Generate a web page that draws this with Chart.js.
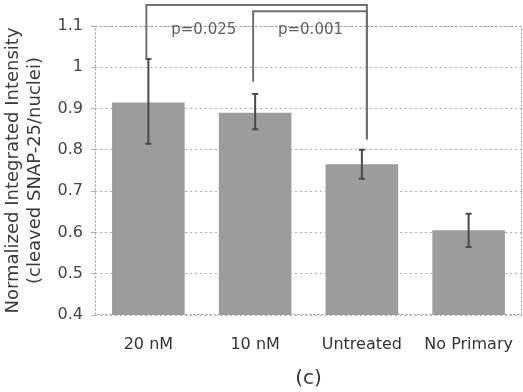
<!DOCTYPE html>
<html>
<head>
<meta charset="utf-8">
<script src="https://cdn.jsdelivr.net/npm/chart.js@4.4.0/dist/chart.umd.min.js"></script>
<style>
  html, body { margin: 0; padding: 0; background: #fff; }
  #wrap { width: 523px; height: 392px; position: relative; }
</style>
</head>
<body>
<div id="wrap"><canvas id="chart"></canvas></div>
<script>
  // Données
  const categories = ["20 nM", "10 nM", "Untreated", "No Primary"];
  const means = [0.915, 0.89, 0.765, 0.605];
  const errLow = [0.815, 0.85, 0.73, 0.565];
  const errHigh = [1.02, 0.935, 0.8, 0.645];
  const yTicks = [0.4, 0.5, 0.6, 0.7, 0.8, 0.9, 1, 1.1];

  // Crochets de significativité : de / vers, hauteur du haut, bas gauche, bas droite
  const bracketFrom = [0, 1];
  const bracketTo = [2, 2];
  const bracketTop = [1.151, 1.136];
  const bracketLeftEnd = [1.02, 0.965];
  const bracketRightEnd = [0.825, 0.825];
  const pLabels = ["p=0.025", "p=0.001"];

  const FONT = "'DejaVu Sans', Verdana, sans-serif";

  const overlayPlugin = {
    id: "overlay",
    afterDatasetsDraw(chart) {
      const { ctx, chartArea, scales } = chart;
      const x = scales.x, y = scales.y;
      ctx.save();

      // cadre pointillé
      ctx.strokeStyle = "#9a9a9a";
      ctx.lineWidth = 1;
      ctx.setLineDash([2, 2]);
      ctx.strokeRect(chartArea.left + 0.5, chartArea.top + 0.5,
        chartArea.right - chartArea.left - 1, chartArea.bottom - chartArea.top - 1);
      ctx.setLineDash([]);

      // barres d'erreur
      ctx.strokeStyle = "#4a4a4a";
      ctx.lineWidth = 2;
      means.forEach((m, i) => {
        const cx = x.getPixelForValue(i);
        const yl = y.getPixelForValue(errLow[i]);
        const yh = y.getPixelForValue(errHigh[i]);
        ctx.beginPath();
        ctx.moveTo(cx, yl); ctx.lineTo(cx, yh);
        ctx.moveTo(cx - 3, yl); ctx.lineTo(cx + 3, yl);
        ctx.moveTo(cx - 3, yh); ctx.lineTo(cx + 3, yh);
        ctx.stroke();
      });

      // crochets
      ctx.strokeStyle = "#707070";
      ctx.lineWidth = 2;
      bracketFrom.forEach((f, k) => {
        const x1 = x.getPixelForValue(f) - 2;
        const x2 = x.getPixelForValue(bracketTo[k]) + 5;
        const yt = y.getPixelForValue(bracketTop[k]);
        ctx.beginPath();
        ctx.moveTo(x1, y.getPixelForValue(bracketLeftEnd[k]));
        ctx.lineTo(x1, yt);
        ctx.lineTo(x2, yt);
        ctx.lineTo(x2, y.getPixelForValue(bracketRightEnd[k]));
        ctx.stroke();
      });

      // étiquettes p
      ctx.fillStyle = "#606060";
      ctx.font = "15px " + FONT;
      ctx.textAlign = "center";
      ctx.textBaseline = "middle";
      pLabels.forEach((t, k) => {
        const xa = x.getPixelForValue(bracketFrom[k] === 0 ? 0 : 1);
        const xb = x.getPixelForValue(bracketFrom[k] === 0 ? 1 : 2);
        ctx.fillText(t, (xa + xb) / 2 + 2, y.getPixelForValue(1.09));
      });
      ctx.restore();
    }
  };

  new Chart(document.getElementById("chart"), {
    type: "bar",
    data: {
      labels: categories,
      datasets: [{
        data: means,
        backgroundColor: "#9c9c9c",
        borderWidth: 0,
        categoryPercentage: 0.68,
        barPercentage: 1.0
      }]
    },
    options: {
      responsive: true,
      maintainAspectRatio: false,
      animation: false,
      layout: { padding: { top: 26, right: 1, left: 3, bottom: 0 } },
      plugins: { legend: { display: false }, tooltip: { enabled: false } },
      scales: {
        x: {
          afterFit(scale) {
            scale.height = 77;
            scale.paddingRight = 0;
            scale.paddingLeft = 0;
          },
          grid: { display: false },
          border: { display: false },
          ticks: { color: "#333", font: { family: FONT, size: 16 }, padding: 12, maxRotation: 0 },
          title: { display: true, text: "(c)", color: "#333", font: { family: FONT, size: 20 }, padding: { top: 13, bottom: 1 } }
        },
        y: {
          min: 0.4,
          max: 1.1,
          afterFit(scale) { scale.width = 92; },
          afterBuildTicks(scale) { scale.ticks = yTicks.map((v) => ({ value: v })); },
          grid: { color: "#b0b0b0", tickLength: 4, drawTicks: true },
          border: { display: false, dash: [2, 3] },
          ticks: {
            color: "#444",
            font: { family: FONT, size: 16 },
            padding: 8,
            callback: (v) => String(Math.round(v * 10) / 10)
          },
          title: {
            display: true,
            text: ["Normalized Integrated Intensity", "(cleaved SNAP-25/nuclei)"],
            color: "#3a3a3a",
            font: { family: FONT, size: 18, lineHeight: 1.2 },
            padding: { top: 0, bottom: 0 }
          }
        }
      }
    },
    plugins: [overlayPlugin]
  });
</script>
</body>
</html>
